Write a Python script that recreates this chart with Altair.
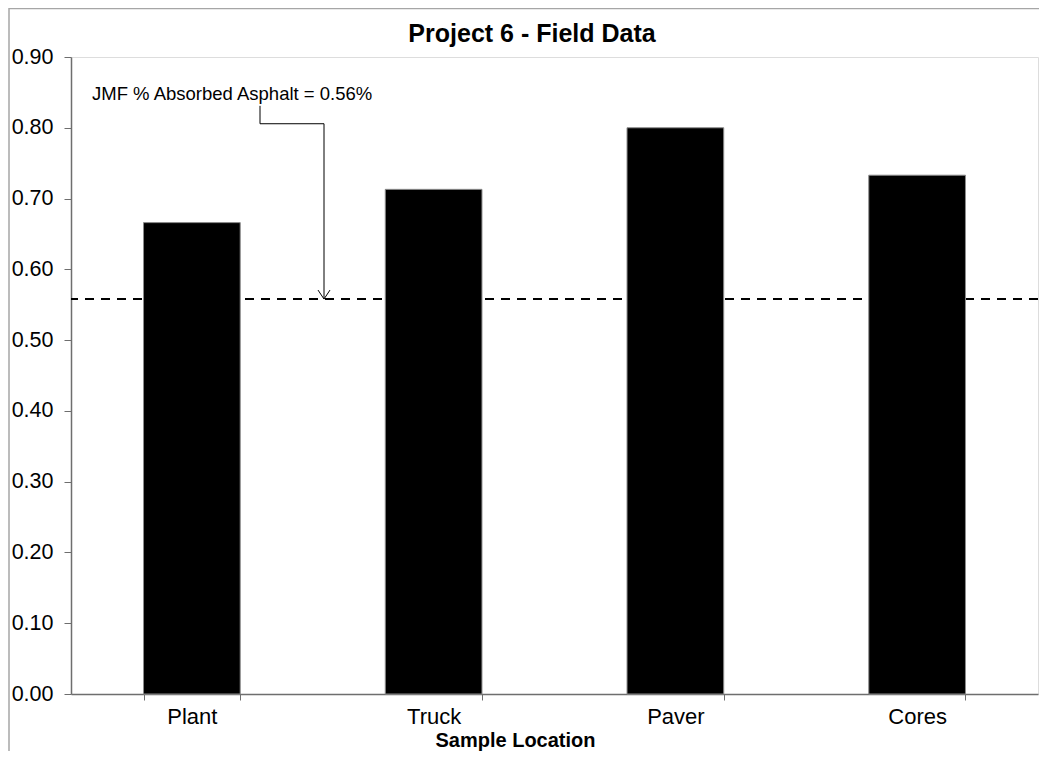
import altair as alt
import pandas as pd

# ---- data ----
locations = ["Plant", "Truck", "Paver", "Cores"]
absorbed = [0.666, 0.713, 0.800, 0.733]
jmf_value = [0.558]
chart_title = "Project 6 - Field Data"
note_text = "JMF % Absorbed Asphalt = 0.56%"
y_ticks = [0.0, 0.1, 0.2, 0.3, 0.4, 0.5, 0.6, 0.7, 0.8, 0.9]

FONT = "Liberation Sans"
AXIS_GRAY = "#6e6e6e"
W, H = 967, 637

bars_df = pd.DataFrame({"Sample Location": locations, "Absorbed": absorbed})
jmf_df = pd.DataFrame({"jmf": jmf_value})

y_scale = alt.Scale(domain=[0, 0.9], nice=False, zero=True)

x_enc = alt.X(
    "Sample Location:N",
    sort=locations,
    scale=alt.Scale(paddingInner=0.6, paddingOuter=0.3),
    axis=alt.Axis(
        title="Sample Location",
        labelAngle=0,
        tickBand="extent",
        labelFont=FONT,
        labelFontSize=22,
        labelColor="black",
        labelPadding=6,
        tickSize=6,
        tickColor=AXIS_GRAY,
        domainColor=AXIS_GRAY,
        domainWidth=1.5,
        titleFont=FONT,
        titleFontSize=20,
        titleFontWeight="bold",
        titleColor="black",
        titleAlign="center",
        titleBaseline="alphabetic",
        titleX=444,
        titleY=52,
    ),
)

y_enc = alt.Y(
    "Absorbed:Q",
    scale=y_scale,
    axis=alt.Axis(
        title=None,
        values=y_ticks,
        format=".2f",
        grid=False,
        labelFont=FONT,
        labelFontSize=21.5,
        labelColor="black",
        labelPadding=11,
        tickSize=7,
        tickColor=AXIS_GRAY,
        domainColor=AXIS_GRAY,
        domainWidth=1.5,
    ),
)

jmf_line = alt.Chart(jmf_df).mark_rule(
    color="black", strokeWidth=2, strokeDash=[9, 7]
).encode(y=alt.Y("jmf:Q", scale=y_scale))

bars = alt.Chart(bars_df).mark_bar(
    color="black", stroke="#8c8c8c", strokeWidth=1
).encode(x=x_enc, y=y_enc)

# annotation geometry, computed as fields inside the spec
ann = alt.Chart(jmf_df).transform_calculate(
    note_y="0.839", c_top="0.831", c_mid="0.8057"
)

title_mark = ann.mark_text(
    text=chart_title, align="center", baseline="alphabetic",
    font=FONT, fontSize=25, fontWeight="bold", color="black"
).encode(x=alt.value(461), y=alt.value(-15))

note = ann.mark_text(
    text=note_text, align="left", baseline="alphabetic",
    font=FONT, fontSize=18.5, color="black"
).encode(x=alt.value(21), y=alt.Y("note_y:Q", scale=y_scale))

conn1 = ann.mark_rule(color="black", strokeWidth=1).encode(
    x=alt.value(189), y=alt.Y("c_top:Q", scale=y_scale), y2="c_mid:Q"
)
conn2 = ann.mark_rule(color="black", strokeWidth=1).encode(
    x=alt.value(189), x2=alt.value(253), y=alt.Y("c_mid:Q", scale=y_scale)
)
conn3 = ann.mark_rule(color="black", strokeWidth=1).encode(
    x=alt.value(253), y=alt.Y("c_mid:Q", scale=y_scale), y2="jmf:Q"
)
arrow_head = ann.mark_point(
    shape="M-1,-1.5L0,0L1,-1.5", filled=False, size=144,
    color="black", strokeWidth=1, opacity=1
).encode(x=alt.value(253), y=alt.Y("jmf:Q", scale=y_scale))

# outer chart-area border (left and top edges)
border_left = alt.Chart(jmf_df).mark_rule(color="#a6a6a6", strokeWidth=1.5).encode(
    x=alt.value(-62), y=alt.value(-49), y2=alt.value(H + 57)
)
border_top = alt.Chart(jmf_df).mark_rule(color="#a6a6a6", strokeWidth=1.5).encode(
    x=alt.value(-62), x2=alt.value(W + 1), y=alt.value(-48.5)
)

chart = alt.layer(
    jmf_line, bars, note, conn1, conn2, conn3, arrow_head,
    title_mark, border_left, border_top
).properties(
    width=W,
    height=H,
    autosize=alt.AutoSizeParams(type="none"),
    padding={"left": 63, "top": 49, "right": 1, "bottom": 57},
).configure_view(
    stroke="black", strokeWidth=2
).configure(
    background="white"
)

chart.save("out.html", embed_options={"renderer": "svg", "actions": False})
